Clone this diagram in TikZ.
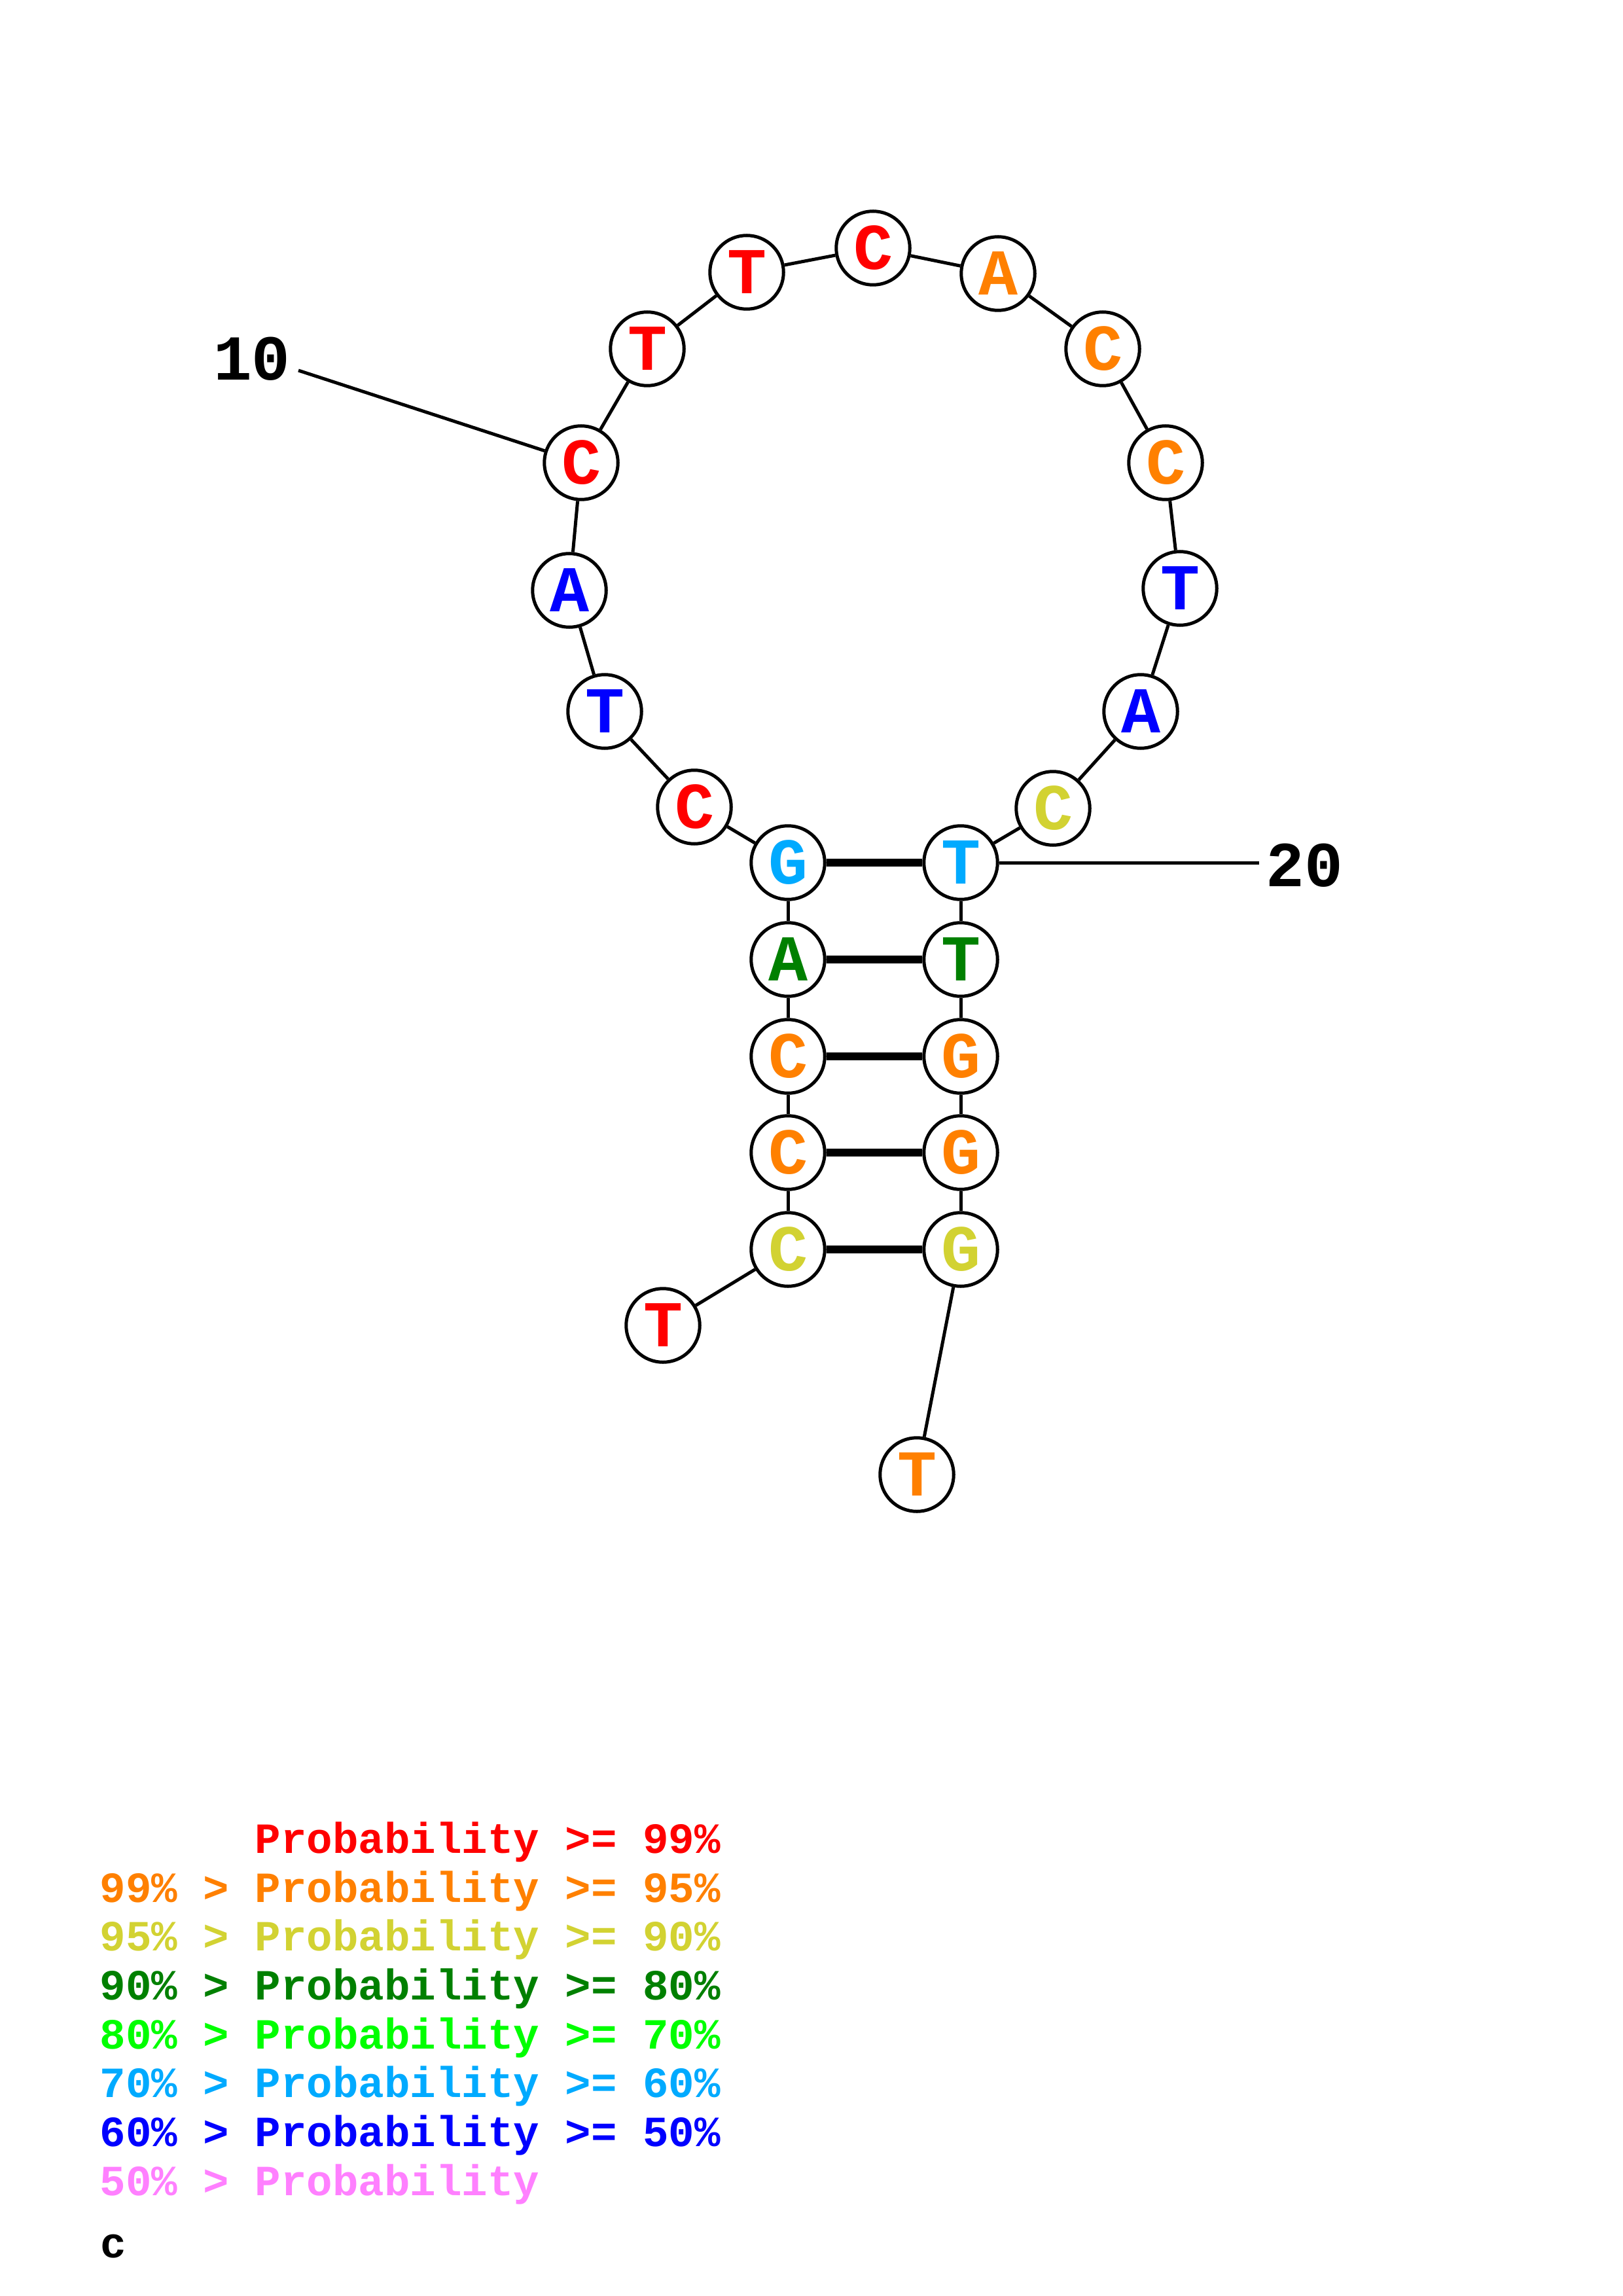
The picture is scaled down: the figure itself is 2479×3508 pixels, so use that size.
\documentclass[tikz,border=0pt]{standalone}
\usepackage{fontspec}
\setmainfont{Liberation Mono}
\definecolor{cred}{RGB}{255,0,0}
\definecolor{corange}{RGB}{255,128,0}
\definecolor{cyellow}{RGB}{210,210,50}
\definecolor{cdgreen}{RGB}{0,128,0}
\definecolor{cgreen}{RGB}{0,255,0}
\definecolor{clblue}{RGB}{0,170,255}
\definecolor{cblue}{RGB}{0,0,255}
\definecolor{cpink}{RGB}{255,128,255}
\begin{document}
\begin{tikzpicture}[x=0.24pt,y=-0.24pt,
  base/.style={circle,draw=black,fill=white,line width=1.2pt,minimum size=27pt,inner sep=0pt,
    font=\fontsize{24pt}{24pt}\selectfont\bfseries},
  bb/.style={line width=1.2pt,black},
  pairline/.style={line width=2.9pt,black},
  numlab/.style={font=\fontsize{23.5pt}{23.5pt}\selectfont\bfseries,inner sep=0pt},
  leg/.style={anchor=base west,inner sep=0pt,font=\fontsize{15.8pt}{15.8pt}\selectfont\bfseries}]
\useasboundingbox[fill=white] (0,0) rectangle (2479,3508);
% nucleotides
\node[base,text=cred]    (n1)  at (1013,2025) {T};
\node[base,text=cyellow] (n2)  at (1204,1909) {C};
\node[base,text=corange] (n3)  at (1204,1761) {C};
\node[base,text=corange] (n4)  at (1204,1614) {C};
\node[base,text=cdgreen] (n5)  at (1204,1466) {A};
\node[base,text=clblue]  (n6)  at (1204,1318) {G};
\node[base,text=cred]    (n7)  at (1061,1233) {C};
\node[base,text=cblue]   (n8)  at (924,1087)  {T};
\node[base,text=cblue]   (n9)  at (870,902)   {A};
\node[base,text=cred]    (n10) at (888,707)   {C};
\node[base,text=cred]    (n11) at (989,533)   {T};
\node[base,text=cred]    (n12) at (1141,416)  {T};
\node[base,text=cred]    (n13) at (1334,379)  {C};
\node[base,text=corange] (n14) at (1525,418)  {A};
\node[base,text=corange] (n15) at (1685,533)  {C};
\node[base,text=corange] (n16) at (1781,707)  {C};
\node[base,text=cblue]   (n17) at (1803,899)  {T};
\node[base,text=cblue]   (n18) at (1743,1087) {A};
\node[base,text=cyellow] (n19) at (1609,1235) {C};
\node[base,text=clblue]  (n20) at (1468,1318) {T};
\node[base,text=cdgreen] (n21) at (1468,1466) {T};
\node[base,text=corange] (n22) at (1468,1614) {G};
\node[base,text=corange] (n23) at (1468,1761) {G};
\node[base,text=cyellow] (n24) at (1468,1909) {G};
\node[base,text=corange] (n25) at (1401,2253) {T};
% backbone
\foreach \a/\b in {1/2,2/3,3/4,4/5,5/6,6/7,7/8,8/9,9/10,10/11,11/12,12/13,13/14,14/15,15/16,16/17,17/18,18/19,19/20,20/21,21/22,22/23,23/24,24/25}
  \draw[bb] (n\a) -- (n\b);
\foreach \a/\b in {6/20,5/21,4/22,3/23,2/24}
  \draw[pairline] (n\a) -- (n\b);
% number labels
\node[numlab] (lab10) at (385,548) {10};
\coordinate (t10) at (456,566);
\draw[bb] (t10) -- (n10);
\node[numlab] (lab20) at (1993,1322) {20};
\coordinate (t20) at (1924,1318);
\draw[bb] (n20) -- (t20);
% legend
\node[leg,text=cred]    (l1) at (152,2831) {\phantom{99\% > }Probability >= 99\%};
\node[leg,text=corange] (l2) at (152,2906) {99\% > Probability >= 95\%};
\node[leg,text=cyellow] (l3) at (152,2980) {95\% > Probability >= 90\%};
\node[leg,text=cdgreen] (l4) at (152,3055) {90\% > Probability >= 80\%};
\node[leg,text=cgreen]  (l5) at (152,3130) {80\% > Probability >= 70\%};
\node[leg,text=clblue]  (l6) at (152,3204) {70\% > Probability >= 60\%};
\node[leg,text=cblue]   (l7) at (152,3279) {60\% > Probability >= 50\%};
\node[leg,text=cpink]   (l8) at (152,3354) {50\% > Probability};
\node[leg,text=black]   (lc) at (153,3449) {c};
\end{tikzpicture}
\end{document}
